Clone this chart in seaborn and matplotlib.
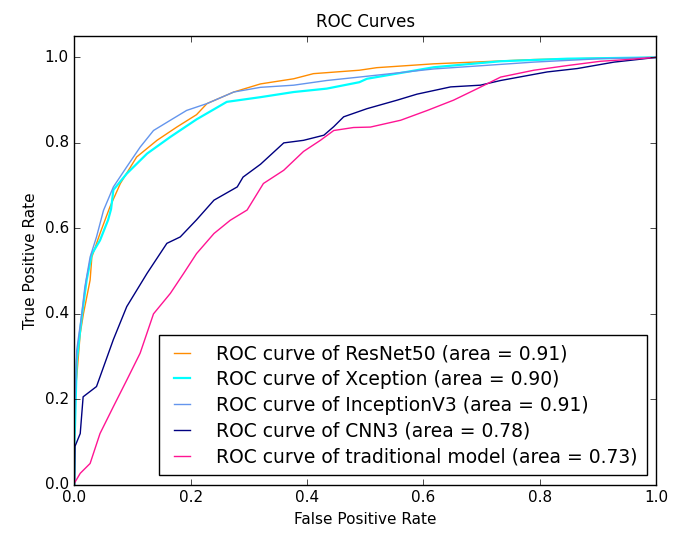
import numpy as np
import pandas as pd
import matplotlib.pyplot as plt
import seaborn as sns

plt.switch_backend("Agg")

# --- ROC points ---
resnet_fpr = [0.0, 0.0, 0.004, 0.01, 0.0155, 0.027, 0.03, 0.044, 0.061, 0.079, 0.107, 0.142,
              0.176, 0.21, 0.228, 0.274, 0.32, 0.377, 0.411, 0.49, 0.52, 0.618, 0.79, 0.9, 1.0]
resnet_tpr = [0.0, 0.2, 0.253, 0.354, 0.40, 0.479, 0.533, 0.588, 0.65, 0.705, 0.767, 0.806,
              0.837, 0.866, 0.892, 0.919, 0.938, 0.95, 0.962, 0.97, 0.976, 0.985, 0.995, 0.998, 1.0]

xception_fpr = [0.0, 0.0, 0.001, 0.004, 0.0126, 0.021, 0.03, 0.044, 0.058, 0.063, 0.067, 0.09,
                0.125, 0.165, 0.21, 0.262, 0.32, 0.377, 0.434, 0.49, 0.503, 0.618, 0.733, 0.848, 1.0]
xception_tpr = [0.0, 0.1, 0.136, 0.29, 0.393, 0.479, 0.54, 0.572, 0.62, 0.645, 0.69, 0.728,
                0.775, 0.814, 0.855, 0.896, 0.907, 0.919, 0.927, 0.942, 0.95, 0.977, 0.991, 0.997, 1.0]

inception_fpr = [0.0, 0.0, 0.004, 0.0126, 0.018, 0.027, 0.038, 0.05, 0.067, 0.09, 0.113, 0.136,
                 0.165, 0.193, 0.228, 0.274, 0.32, 0.377, 0.434, 0.49, 0.618, 0.79, 0.905, 1.0]
inception_tpr = [0.0, 0.15, 0.315, 0.40, 0.463, 0.533, 0.58, 0.642, 0.697, 0.744, 0.79, 0.829,
                 0.853, 0.876, 0.892, 0.919, 0.93, 0.935, 0.946, 0.954, 0.973, 0.989, 0.997, 1.0]

cnn3_fpr = [0.0, 0.001, 0.01, 0.015, 0.038, 0.067, 0.09, 0.125, 0.159, 0.182, 0.21, 0.24, 0.28,
            0.29, 0.32, 0.36, 0.394, 0.429, 0.446, 0.463, 0.503, 0.555, 0.589, 0.647, 0.698,
            0.733, 0.813, 0.865, 0.928, 0.968, 1.0]
cnn3_tpr = [0.0, 0.09, 0.12, 0.206, 0.23, 0.34, 0.417, 0.495, 0.565, 0.58, 0.62, 0.666, 0.697,
            0.72, 0.75, 0.80, 0.806, 0.818, 0.838, 0.861, 0.880, 0.900, 0.914, 0.931, 0.935,
            0.946, 0.966, 0.974, 0.989, 0.995, 1.0]

trad_fpr = [0.0, 0.0, 0.01, 0.027, 0.044, 0.067, 0.09, 0.113, 0.136, 0.165, 0.188, 0.21, 0.24,
            0.268, 0.297, 0.325, 0.36, 0.394, 0.423, 0.446, 0.48, 0.509, 0.561, 0.607, 0.652,
            0.693, 0.733, 0.79, 0.848, 0.905, 0.951, 1.0]
trad_tpr = [0.0, 0.004, 0.027, 0.05, 0.12, 0.183, 0.245, 0.308, 0.40, 0.448, 0.495, 0.541, 0.588,
            0.619, 0.643, 0.705, 0.736, 0.78, 0.806, 0.829, 0.836, 0.837, 0.853, 0.876, 0.90,
            0.927, 0.954, 0.97, 0.981, 0.991, 0.995, 1.0]

labels = [
    "ROC curve of ResNet50 (area = 0.91)",
    "ROC curve of Xception (area = 0.90)",
    "ROC curve of InceptionV3 (area = 0.91)",
    "ROC curve of CNN3 (area = 0.78)",
    "ROC curve of traditional model (area = 0.73)",
]
colors = ["darkorange", "aqua", "cornflowerblue", "navy", "deeppink"]
widths = [1.0, 1.6, 1.0, 1.0, 1.0]

curves = [(resnet_fpr, resnet_tpr), (xception_fpr, xception_tpr),
          (inception_fpr, inception_tpr), (cnn3_fpr, cnn3_tpr), (trad_fpr, trad_tpr)]

frames = []
for lab, (f, t) in zip(labels, curves):
    frames.append(pd.DataFrame({"fpr": f, "tpr": t, "model": lab}))
df = pd.concat(frames, ignore_index=True)

plt.style.use("classic")
plt.rcParams["figure.facecolor"] = "white"
plt.rcParams["savefig.facecolor"] = "white"

fig = plt.figure(figsize=(6.89, 5.46), dpi=100)
ax = fig.add_axes([0.108, 0.112, 0.844, 0.822])

sns.lineplot(data=df, x="fpr", y="tpr", hue="model", hue_order=labels,
             palette=dict(zip(labels, colors)), estimator=None, sort=False,
             legend=False, ax=ax)

for line, lw, lab in zip(ax.lines, widths, labels):
    line.set_linewidth(lw)
    line.set_label(lab)

ax.set_xlim(0.0, 1.0)
ax.set_ylim(0.0, 1.05)
ax.tick_params(labelsize=11)
ax.set_xlabel("False Positive Rate", fontsize=11)
ax.set_ylabel("True Positive Rate", fontsize=11)
ax.set_title("ROC Curves", fontsize=12, y=1.005)
ax.legend(loc="lower right", fontsize=13.5, frameon=True, fancybox=False,
          handlelength=1.45, handletextpad=1.05, labelspacing=0.36,
          borderpad=0.5, borderaxespad=0.5)

fig.savefig("out.png", dpi=100)
plt.close(fig)
